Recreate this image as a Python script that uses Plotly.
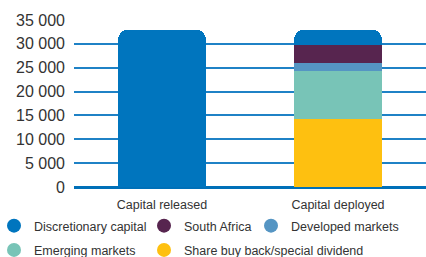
import plotly.graph_objects as go

categories = ["Capital released", "Capital deployed"]
discretionary = [33000, 3250]
south_africa = [0, 3750]
developed = [0, 1700]
emerging = [0, 10100]
buyback = [0, 14200]

y_ticks = [0, 5000, 10000, 15000, 20000, 25000, 30000, 35000]
y_tick_labels = ["0", "5 000", "10 000", "15 000", "20 000", "25 000", "30 000", "35 000"]

C_DISC = "#0075BE"
C_SA = "#57254F"
C_DEV = "#5595C3"
C_EM = "#78C4B7"
C_BUY = "#FEC010"

fig = go.Figure()

# stacked bars, bottom to top
for name, vals, col in [
    ("Share buy back/special dividend", buyback, C_BUY),
    ("Emerging markets", emerging, C_EM),
    ("Developed markets", developed, C_DEV),
    ("South Africa", south_africa, C_SA),
    ("Discretionary capital", discretionary, C_DISC),
]:
    fig.add_trace(go.Bar(x=categories, y=vals, name=name, marker=dict(color=col, line=dict(width=0)),
                         showlegend=False, hoverinfo="skip"))

# legend entries with circular markers (dummy points on a hidden axis pair)
legend_items = [
    ("Discretionary capital", C_DISC, "legend"),
    ("Emerging markets", C_EM, "legend"),
    ("South Africa", C_SA, "legend2"),
    ("Share buy back/special dividend", C_BUY, "legend2"),
    ("Developed markets", C_DEV, "legend3"),
]
for i, (name, col, lg) in enumerate(legend_items):
    fig.add_trace(go.Scatter(x=[-1], y=[-1], mode="markers", name=name,
                             marker=dict(color=col, size=14, symbol="circle"),
                             xaxis="x2", yaxis="y2", hoverinfo="skip",
                             legend=lg, legendgroup="g%d" % i, showlegend=True))

W, H = 426, 257
ML, MT, MB = 74, 20, 70
PW, PH = W - ML, H - MT - MB


def px_x(p):
    return (p - ML) / PW


def px_y(p):
    return (H - MB - p) / PH


leg_common = dict(orientation="v", xref="paper", yref="paper", xanchor="left", yanchor="top",
                  font=dict(family="Arial, Liberation Sans, sans-serif", size=12.5, color="#333333"),
                  bgcolor="rgba(0,0,0,0)", borderwidth=0, tracegroupgap=5, itemwidth=30,
                  indentation=-13)

fig.update_layout(
    width=W, height=H,
    margin=dict(l=ML, r=0, t=MT, b=MB, autoexpand=False),
    paper_bgcolor="white", plot_bgcolor="white",
    barmode="stack", bargap=0.5, barcornerradius=10,
    font=dict(family="Arial, Liberation Sans, sans-serif", color="#333333"),
    xaxis=dict(showgrid=False, showline=False, zeroline=False, ticks="", ticklabelstandoff=8,
               tickfont=dict(size=12.5, color="#333333")),
    yaxis=dict(range=[0, 35000], tickvals=y_ticks, ticktext=y_tick_labels,
               showgrid=True, gridcolor="#1F82C6", gridwidth=1.5,
               zeroline=True, zerolinecolor="#0070B8", zerolinewidth=3,
               showline=False, ticks="", ticklabelstandoff=8,
               tickfont=dict(size=16, color="#333333")),
    xaxis2=dict(range=[0, 1], visible=False, overlaying="x", anchor="y2"),
    yaxis2=dict(range=[0, 1], visible=False, overlaying="y", anchor="x2"),
    legend=dict(x=px_x(7), y=px_y(211), **leg_common),
    legend2=dict(x=px_x(157), y=px_y(211), **leg_common),
    legend3=dict(x=px_x(264), y=px_y(211), **leg_common),
)

fig.write_html("out.html", config={"displayModeBar": False},
               post_script="document.body.style.margin='0';")
